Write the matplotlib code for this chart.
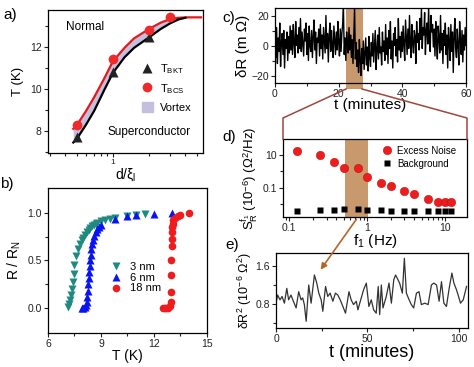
import numpy as np
import matplotlib
matplotlib.use('Agg')
import matplotlib.pyplot as plt
from matplotlib.lines import Line2D
from matplotlib.patches import Patch, Rectangle, FancyArrowPatch
from matplotlib.ticker import FixedLocator, NullFormatter, FixedFormatter, FormatStrFormatter, LogLocator

plt.rcParams['font.family'] = ['Liberation Sans', 'DejaVu Sans']
plt.rcParams['mathtext.fontset'] = 'custom'
plt.rcParams['mathtext.rm'] = 'Liberation Sans'
plt.rcParams['mathtext.it'] = 'Liberation Sans:italic'

# ---- panel a: phase diagram ----
d_bkt = [0.5, 1.0, 2.0]
t_bkt = [7.7, 10.8, 12.45]
d_bcs = [0.5, 1.0, 2.0, 3.0]
t_bcs = [8.3, 11.4, 12.8, 13.4]
d_curve = [0.47, 0.5, 0.6, 0.7, 0.85, 1.0, 1.25, 1.5, 2.0, 2.5, 3.0, 3.5, 4.0, 4.6, 5.4]
t_red = [8.1, 8.25, 8.95, 9.6, 10.5, 11.3, 11.95, 12.4, 12.85, 13.15, 13.32, 13.38, 13.4, 13.4, 13.4]
t_black = [7.45, 7.6, 8.3, 8.95, 9.95, 10.75, 11.5, 11.95, 12.45, 12.85, 13.12, 13.3, 13.38, 13.4, 13.4]

# ---- panel b: R/RN vs T ----
t3 = [7.15, 7.2, 7.25, 7.3, 7.35, 7.4, 7.45, 7.5, 7.6, 7.7, 7.8, 7.9, 8.0, 8.1,
      8.2, 8.3, 8.4, 8.5, 8.6, 8.7, 8.8, 9.0, 9.2, 9.5, 9.8, 10.5, 11.0, 11.5]
r3 = [0.01, 0.04, 0.09, 0.14, 0.2, 0.27, 0.36, 0.45, 0.55, 0.62, 0.67, 0.71, 0.74, 0.77,
      0.8, 0.82, 0.84, 0.86, 0.87, 0.88, 0.89, 0.91, 0.92, 0.94, 0.95, 0.97, 0.98, 0.985]
t6 = [7.9, 8.0, 8.1, 8.15, 8.2, 8.22, 8.25, 8.27, 8.3, 8.32, 8.35, 8.38, 8.42,
      8.46, 8.5, 8.55, 8.62, 8.7, 8.8, 8.9, 9.0, 9.8, 10.5, 11.0, 12.0, 13.0]
r6 = [0.0, 0.0, 0.01, 0.03, 0.07, 0.12, 0.18, 0.25, 0.32, 0.38, 0.44, 0.5, 0.56,
      0.62, 0.67, 0.72, 0.76, 0.8, 0.83, 0.85, 0.87, 0.94, 0.97, 0.98, 0.99, 1.0]
t18 = [12.5, 12.6, 12.7, 12.8, 12.9, 12.95, 12.95, 12.95, 12.97, 13.0, 13.0, 13.0,
       13.02, 13.05, 13.1, 13.2, 13.35, 13.5, 14.0]
r18 = [0.0, 0.0, 0.0, 0.0, 0.02, 0.06, 0.17, 0.35, 0.51, 0.65, 0.73, 0.8,
       0.85, 0.88, 0.92, 0.95, 0.97, 0.98, 1.0]

# ---- panel c: resistance fluctuations (0.25 min sampling) ----
dr_c = [3, -8, 12, -12, 5, -4, 15, -14, 2, 8, -6, 10, -15, 4, -2, 9, -10, 6, -5, 13,
        -3, 10, -6, 14, 2, -8, 16, 0, 7, -5, 12, -2, 18, -4, 9, 1, -7, 11, 3, 15,
        -6, 8, -10, 13, 0, -4, 10, -8, 6, 17, -3, 9, -12, 5, 2, 11, -7, 14, -2, 7,
        -9, 12, 3, -5, 20, -2, 8, -11, 6, 15, -4, 10, 0, -8, 13, 4, -6, 9, -3, 16,
        2, -7, 11, -4, 8, 14, 25, -6, 5, -10, 9, 1, -5, 12, -3, 7, -8, 4, -12, 6,
        25, -9, 2, -14, -3, -18, 4, -10, -20, -2, -12, 3, -16, -6, 5, -13, -1, -17, 6, -8,
        -14, 2, -7, 8, -11, 0, 10, -16, -3, 7, -9, 12, -5, -1, -13, 9, -4, 3, -10, 14,
        -6, 5, -12, 10, -2, 16, -9, 3, -15, 8, 0, 12, -7, 4, -11, 18, -3, 6, -8, 9,
        -4, 13, 0, -10, 17, 5, -6, 11, -2, 20, 3, -8, 14, 1, -5, 10, 6, -12, 16, 2,
        8, -3, 18, 4, 25, -2, 12, 7, 22, -6, 10, 15, 1, 25, 5, -4, 20, 9, 14, -1,
        11, -7, 16, 2, -9, 13, 5, -5, 20, -3, 8, -12, 10, 0, 15, -6, 7, -15, 12, 3,
        -10, 14, -4, 9, -18, 6, 18, -2, -8, 11, 0, -13, 16, 4, -6, 10, -11, 7, -3, 12, 0]
t_c = np.arange(len(dr_c)) * 0.25
band_t = (22.4, 27.5)

# ---- panel d: noise spectra ----
f1 = [0.125, 0.25, 0.375, 0.5, 0.75, 1.0, 1.5, 2.0, 3.0, 4.0, 6.0, 8.0, 10.0, 12.0]
s_excess = [18.5, 10.0, 3.9, 1.65, 1.5, 0.46, 0.2, 0.12, 0.063, 0.039, 0.02, 0.013, 0.013, 0.013]
s_back = [0.0036, 0.0042, 0.0042, 0.0044, 0.0044, 0.0039, 0.0039, 0.0036, 0.0035,
          0.0035, 0.0035, 0.0035, 0.0035, 0.0035]
band_f = (0.52, 1.03)

# ---- panel e: second spectrum time series ----
t_e = [0, 0.9, 2.2, 3.3, 4.6, 5.9, 6.9, 8.2, 9.5, 11.0, 12.4, 13.7, 14.6, 15.5, 16.5,
       17.9, 19.2, 21.0, 22.3, 23.4, 24.7, 25.6, 27.1, 28.3, 29.6, 31.1, 32.5, 33.8,
       35.1, 36.6, 38.0, 39.9, 41.1, 42.4, 43.9, 44.8, 46.1, 47.9, 49.4, 50.8, 52.1,
       53.4, 54.8, 55.9, 56.7, 57.6, 58.5, 60.3, 61.8, 63.1, 64.4, 65.4, 66.7, 67.6,
       69.1, 70.2, 71.3, 72.8, 74.0, 75.3, 76.8, 78.2, 79.5, 81.4, 83.2, 85.0, 86.3,
       87.8, 89.2, 90.5, 91.8, 93.2, 94.7, 96.2, 97.3, 98.7, 99.6, 100.9, 102.4, 104.2]
dr2_e = [0.82, 0.99, 0.89, 0.96, 0.82, 1.13, 0.89, 0.99, 0.86, 0.72, 1.06, 0.89, 0.93,
         0.79, 0.44, 1.20, 0.82, 1.41, 1.24, 1.03, 0.89, 0.65, 1.17, 0.96, 1.03, 0.86,
         1.03, 0.99, 0.89, 0.75, 0.61, 1.06, 0.89, 0.79, 0.86, 0.68, 0.86, 1.10, 1.24,
         0.75, 0.89, 0.68, 0.61, 1.17, 0.58, 1.20, 0.72, 0.96, 1.24, 0.82, 1.31, 1.41,
         1.31, 1.24, 1.03, 1.76, 1.03, 0.89, 0.79, 0.72, 1.03, 1.06, 0.79, 0.82, 0.79,
         1.20, 1.24, 1.20, 0.86, 1.27, 0.82, 0.75, 1.13, 1.45, 1.24, 1.10, 0.99, 0.82,
         0.89, 1.17]

W, H = 474, 367


def px(x, y):
    return (x / W, 1 - y / H)


def rect(l, t, r, b):
    return [l / W, 1 - b / H, (r - l) / W, (b - t) / H]


def style(ax):
    ax.tick_params(which='both', direction='out', labelsize=7.5, width=0.8,
                   pad=1.5, colors='#222222', top=False, right=False)
    ax.tick_params(which='major', length=3)
    ax.tick_params(which='minor', length=2)
    for s in ax.spines.values():
        s.set_linewidth(0.9)


fig = plt.figure(figsize=(W / 100, H / 100), dpi=100)

# panel a
ax = fig.add_axes(rect(48, 10, 203, 153))
ax.set_xscale('log')
ax.fill_between(d_curve, t_black, t_red, color='#c3bfdc', lw=0)
ax.plot(d_curve, t_red, color='#e3191c', lw=1.6)
ax.plot(d_curve[:13], t_black[:13], color='black', lw=1.6)
ax.plot(d_bkt, t_bkt, '^', color='#222222', ms=7, mec='none')
ax.plot(d_bcs, t_bcs, 'o', color='#ee2a2a', ms=7, mec='none')
ax.set_xlim(0.29, 5.6)
ax.set_ylim(6.95, 13.75)
ax.xaxis.set_major_locator(FixedLocator([1]))
ax.xaxis.set_major_formatter(FixedFormatter(['1']))
ax.xaxis.set_minor_locator(LogLocator(subs=np.arange(2, 10)))
ax.xaxis.set_minor_formatter(NullFormatter())
ax.yaxis.set_major_locator(FixedLocator([8, 10, 12]))
ax.yaxis.set_minor_locator(FixedLocator([7, 9, 11, 13]))
style(ax)
ax.tick_params(axis='x', labelsize=6)
ax.set_ylabel('T (K)', fontsize=9.5, labelpad=4)
ax.set_xlabel('d/ξ$_{\\rm l}$', fontsize=10, labelpad=0)
ax.text(0.24, 0.88, 'Normal', transform=ax.transAxes, fontsize=8.5, ha='center', va='center')
ax.text(0.65, 0.147, 'Superconductor', transform=ax.transAxes, fontsize=8.5,
        ha='center', va='center')
h_a = [Line2D([], [], marker='^', color='#222222', ls='none', ms=7, mec='none'),
       Line2D([], [], marker='o', color='#ee2a2a', ls='none', ms=7, mec='none'),
       Patch(color='#c3bfdc')]
ax.legend(h_a, ['T$_{\\rm BKT}$', 'T$_{\\rm BCS}$', 'Vortex'], loc='center left',
          bbox_to_anchor=(0.57, 0.46), frameon=False, fontsize=8, handlelength=1.0,
          handleheight=1.0, labelspacing=0.55, handletextpad=0.6, borderpad=0)

# panel b
ax = fig.add_axes(rect(48, 188, 207, 333))
ax.plot(t3, r3, 'v', color='#1f8b80', ms=5.5, mec='none', label='3 nm')
ax.plot(t6, r6, '^', color='#0a14f0', ms=5.5, mec='none', label='6 nm')
ax.plot(t18, r18, 'o', color='#ee1c1c', ms=5.5, mec='none', label='18 nm')
ax.set_xlim(6, 15)
ax.set_ylim(-0.26, 1.26)
ax.xaxis.set_major_locator(FixedLocator([6, 9, 12, 15]))
ax.xaxis.set_minor_locator(FixedLocator([7.5, 10.5, 13.5]))
ax.yaxis.set_major_locator(FixedLocator([0, 0.5, 1.0]))
ax.yaxis.set_major_formatter(FormatStrFormatter('%.1f'))
ax.yaxis.set_minor_locator(FixedLocator([0.25, 0.75]))
style(ax)
ax.set_xlabel('T (K)', fontsize=10, labelpad=0)
ax.set_ylabel('R / R$_{\\rm N}$', fontsize=10, labelpad=3)
ax.legend(loc='center left', bbox_to_anchor=(0.36, 0.38), frameon=False, fontsize=8,
          handlelength=1.0, labelspacing=0.05, handletextpad=0.7, borderpad=0)

# panel c
ax = fig.add_axes(rect(275, 8, 466, 83))
ax.add_patch(Rectangle((band_t[0], -0.08), band_t[1] - band_t[0], 1.08,
                       transform=ax.get_xaxis_transform(), clip_on=False,
                       color='#c8996c', lw=0, zorder=0.5))
ax.plot(t_c, dr_c, color='black', lw=1.0, zorder=2)
ax.set_xlim(0, 60)
ax.set_ylim(-25, 25)
ax.xaxis.set_major_locator(FixedLocator([0, 20, 40, 60]))
ax.xaxis.set_minor_locator(FixedLocator([10, 30, 50]))
ax.yaxis.set_major_locator(FixedLocator([-20, 0, 20]))
ax.yaxis.set_minor_locator(FixedLocator([-10, 10]))
style(ax)
ax.set_xlabel('t (minutes)', fontsize=11, labelpad=-1)
ax.set_ylabel('δR (m Ω)', fontsize=11, labelpad=1)

# panel d
ax = fig.add_axes(rect(283, 139, 467, 217))
ax.set_xscale('log')
ax.set_yscale('log')
ax.axvspan(band_f[0], band_f[1], color='#c8996c', lw=0, zorder=0.5)
ax.plot(f1, s_excess, 'o', color='#ee1c1c', ms=6, mec='#c81010', mew=0.4,
        label='Excess Noise', zorder=3)
ax.plot(f1, s_back, 's', color='black', ms=4.5, mec='none', label='Background', zorder=3)
ax.set_xlim(0.083, 19)
ax.set_ylim(0.0015, 100)
ax.xaxis.set_major_locator(FixedLocator([0.1, 1, 10]))
ax.xaxis.set_major_formatter(FixedFormatter(['0.1', '1', '10']))
ax.xaxis.set_minor_formatter(NullFormatter())
ax.yaxis.set_major_locator(FixedLocator([0.1, 10]))
ax.yaxis.set_major_formatter(FixedFormatter(['0.1', '10']))
ax.yaxis.set_minor_locator(FixedLocator([0.001, 0.01, 1]))
ax.yaxis.set_minor_formatter(NullFormatter())
style(ax)
ax.set_xlabel('f$_{\\rm 1}$ (Hz)', fontsize=11, labelpad=-1)
ax.set_ylabel('S$_{\\rm R}^{\\rm f_1}$ (10$^{-6}$) (Ω$^2$/Hz)', fontsize=9.5, labelpad=1)
ax.legend(loc='upper left', bbox_to_anchor=(0.5, 1.0), frameon=False, fontsize=7,
          handlelength=1.0, labelspacing=0.3, handletextpad=0.6, borderpad=0.2)

# panel e
ax = fig.add_axes(rect(276, 253, 468, 328))
ax.plot(t_e, dr2_e, color='#333333', lw=0.9)
ax.set_xlim(0, 105)
ax.set_ylim(0.3, 1.87)
ax.xaxis.set_major_locator(FixedLocator([0, 50, 100]))
ax.xaxis.set_minor_locator(FixedLocator([25, 75]))
ax.yaxis.set_major_locator(FixedLocator([0.8, 1.6]))
ax.yaxis.set_minor_locator(FixedLocator([0.4, 1.2]))
style(ax)
ax.set_xlabel('t (minutes)', fontsize=13, labelpad=0)
ax.set_ylabel('δR$^2$ (10$^{-6}$ Ω$^2$)', fontsize=9, labelpad=1)

# bracket from band in c to panel d, arrow from band in d to panel e
br = '#a0463e'
fig.add_artist(Line2D([346 / W, 283 / W, 283 / W], [1 - 89 / H, 1 - 118 / H, 1 - 139 / H],
                      transform=fig.transFigure, color=br, lw=1.1))
fig.add_artist(Line2D([362 / W, 467 / W, 467 / W], [1 - 89 / H, 1 - 118 / H, 1 - 139 / H],
                      transform=fig.transFigure, color=br, lw=1.1))
fig.add_artist(FancyArrowPatch(px(358, 217), px(319, 272), transform=fig.transFigure,
                               arrowstyle='-|>', mutation_scale=9, color='#b5652a', lw=1.2))

for lab, x, y in [('a)', 3, 15), ('b)', 0, 184), ('c)', 222, 18), ('d)', 222, 137),
                  ('e)', 225, 245)]:
    fig.text(x / W, 1 - y / H, lab, fontsize=11, ha='left', va='center')

fig.savefig('out.png', dpi=100)
